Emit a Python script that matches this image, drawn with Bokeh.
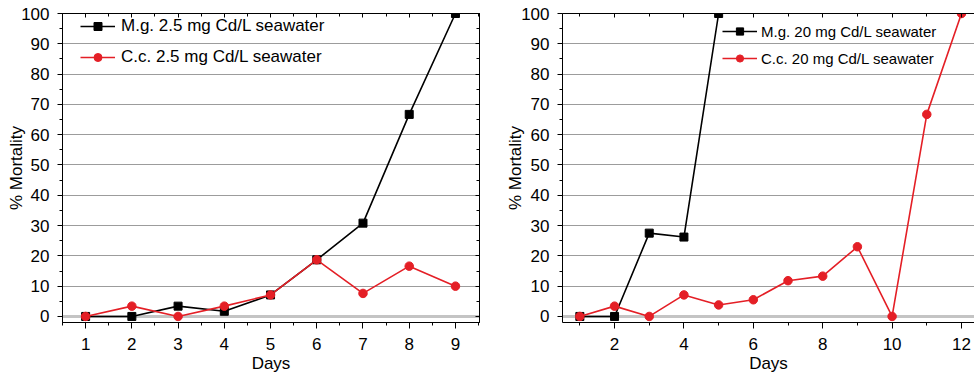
from bokeh.plotting import figure
from bokeh.layouts import row
from bokeh.models import (Range1d, LinearAxis, SingleIntervalTicker, Span,
                          Legend, LegendItem, CustomJSTickFormatter)
from bokeh.embed import file_html
from bokeh.resources import INLINE

# ---- data ----
days_a = [1, 2, 3, 4, 5, 6, 7, 8, 9]
mg_a = [0, 0, 3.4, 1.7, 7.1, 18.7, 30.8, 66.7, 100]
cc_a = [0, 3.4, 0, 3.4, 7.1, 18.7, 7.6, 16.6, 10]

days_mg_b = [1, 2, 3, 4, 5]
mg_b = [0, 0, 27.5, 26.2, 100]
days_cc_b = [1, 2, 3, 4, 5, 6, 7, 8, 9, 10, 11, 12]
cc_b = [0, 3.4, 0, 7.1, 3.8, 5.5, 11.8, 13.3, 23.0, 0, 66.7, 100]

label_mg_a = "M.g. 2.5 mg Cd/L seawater"
label_cc_a = "C.c. 2.5 mg Cd/L seawater"
label_mg_b = "M.g. 20 mg Cd/L seawater"
label_cc_b = "C.c. 20 mg Cd/L seawater"

FONT = "Liberation Sans"
BLACK = "#000000"
RED = "#e41f26"
GRID = "#9c9c9c"


def style_axis(ax, tick_out, minor_out):
    ax.axis_line_color = BLACK
    ax.major_tick_line_color = BLACK
    ax.minor_tick_line_color = BLACK
    ax.major_tick_out = tick_out
    ax.major_tick_in = 0
    ax.minor_tick_out = minor_out
    ax.minor_tick_in = 0
    ax.major_label_text_font = FONT
    ax.major_label_text_font_size = "17px"
    ax.major_label_text_color = BLACK
    ax.axis_label_text_font = FONT
    ax.axis_label_text_font_size = "17px"
    ax.axis_label_text_font_style = "normal"
    ax.axis_label_text_color = BLACK


def mirror_axis(ticker):
    ax = LinearAxis(ticker=ticker, formatter=CustomJSTickFormatter(code="return ''"))
    ax.axis_line_color = BLACK
    ax.major_tick_line_color = BLACK
    ax.minor_tick_line_color = BLACK
    ax.major_tick_out = 0
    ax.major_tick_in = 4
    ax.minor_tick_out = 0
    ax.minor_tick_in = 3
    ax.major_label_text_font_size = "1px"
    ax.major_label_text_color = None
    ax.major_label_standoff = 0
    return ax


def panel(width, bl, br, x_end, x_interval, ylab_standoff, right_mirror):
    p = figure(width=width, height=375, output_backend="svg",
               toolbar_location=None,
               x_range=Range1d(0.5, x_end), y_range=Range1d(-2, 100),
               min_border_left=bl, min_border_right=br,
               min_border_top=13, min_border_bottom=53)
    p.background_fill_color = "white"
    p.border_fill_color = "white"
    if right_mirror:
        p.outline_line_color = BLACK
        p.outline_line_width = 1
    else:
        p.outline_line_color = None

    xt = SingleIntervalTicker(interval=x_interval, num_minor_ticks=2)
    yt = SingleIntervalTicker(interval=10, num_minor_ticks=2)
    p.xaxis.ticker = xt
    p.yaxis.ticker = yt
    style_axis(p.xaxis[0], 6, 3)
    style_axis(p.yaxis[0], 5, 3)
    p.xaxis.axis_label = "Days"
    p.yaxis.axis_label = "% Mortality"
    p.xaxis.major_label_standoff = 9
    p.xaxis.axis_label_standoff = 1
    p.yaxis.major_label_standoff = 8
    p.yaxis.axis_label_standoff = ylab_standoff

    p.xgrid.visible = False
    p.ygrid.ticker = yt
    p.ygrid.grid_line_color = GRID
    p.ygrid.grid_line_width = 1

    zero = Span(location=0, dimension="width", line_color="#c4c4c4",
                line_width=3, level="underlay")
    p.add_layout(zero)

    p.add_layout(mirror_axis(SingleIntervalTicker(interval=x_interval, num_minor_ticks=2)), "above")
    if right_mirror:
        p.add_layout(mirror_axis(SingleIntervalTicker(interval=10, num_minor_ticks=2)), "right")
    return p


def series(p, x, y, color, marker):
    l = p.line(x, y, line_color=color, line_width=1.6)
    if marker == "square":
        s = p.scatter(x, y, marker="square", size=8, fill_color=color, line_color=color)
    else:
        s = p.scatter(x, y, marker="circle", size=8.5, fill_color=color, line_color=color)
    return [l, s]


def add_legend(p, items, loc, font_size, gh, spacing, standoff):
    leg = Legend(items=items, location=loc)
    leg.background_fill_alpha = 0
    leg.border_line_alpha = 0
    leg.padding = 0
    leg.margin = 0
    leg.spacing = spacing
    leg.glyph_width = 35
    leg.glyph_height = gh
    leg.label_height = gh
    leg.label_standoff = standoff
    leg.label_text_font = FONT
    leg.label_text_font_size = font_size
    leg.label_text_color = BLACK
    p.add_layout(leg)


# ---- left panel ----
p1 = panel(487, 62, 8, 9.52, 1, -8, True)
r_mg_a = series(p1, days_a, mg_a, BLACK, "square")
r_cc_a = series(p1, days_a, cc_a, RED, "circle")
add_legend(p1, [LegendItem(label=label_mg_a, renderers=r_mg_a),
                LegendItem(label=label_cc_a, renderers=r_cc_a)],
           (18, 255), "17px", 20, 11, 6)

# ---- right panel ----
p2 = panel(487, 75, 0, 12.375, 2, -7, False)
r_mg_b = series(p2, days_mg_b, mg_b, BLACK, "square")
r_cc_b = series(p2, days_cc_b, cc_b, RED, "circle")
add_legend(p2, [LegendItem(label=label_mg_b, renderers=r_mg_b),
                LegendItem(label=label_cc_b, renderers=r_cc_b)],
           (160, 255), "15px", 18, 9, 4)

layout = row(p1, p2)
open("out.html", "w").write(file_html(layout, INLINE))
